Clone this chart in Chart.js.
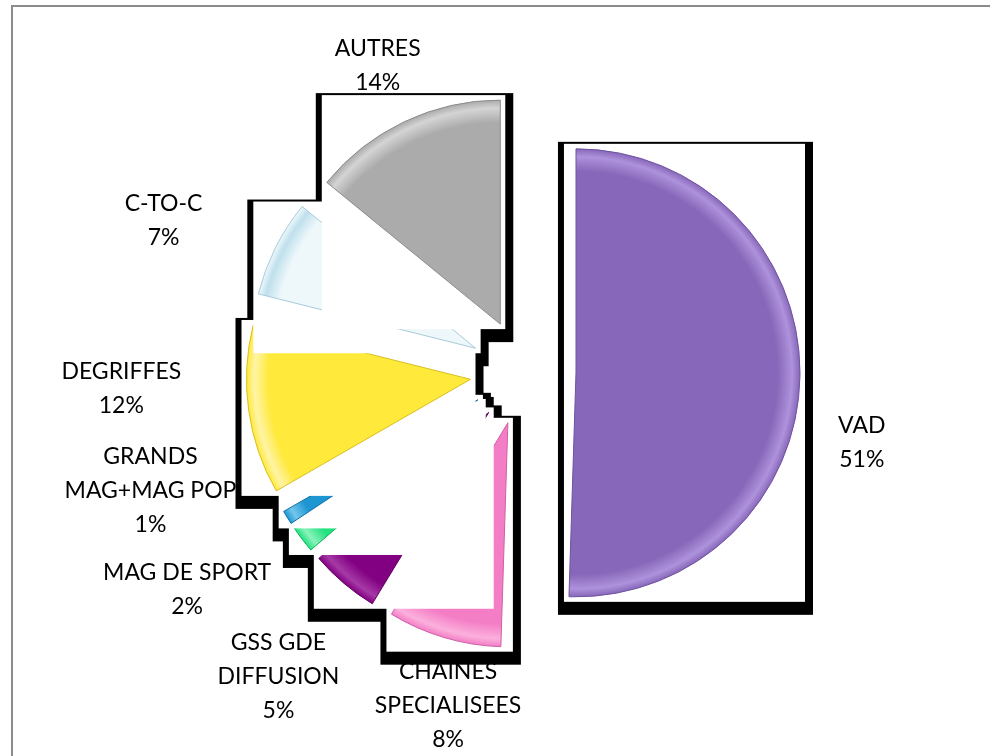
<!DOCTYPE html>
<html>
<head>
<meta charset="utf-8">
<script src="https://cdn.jsdelivr.net/npm/chart.js@4.4.1/dist/chart.umd.min.js"></script>
<style>
html,body{margin:0;padding:0;background:#fff;overflow:hidden;width:990px;height:756px}
#frame{position:absolute;left:11px;top:5px;width:990px;height:800px;border-left:2px solid #8c8c8c;border-top:2px solid #8c8c8c}
#c{position:absolute;left:0;top:0}
</style>
</head>
<body>
<div id="frame"></div>
<canvas id="c" width="990" height="756"></canvas>
<script>
// ---- data ----
const categories = [
  ["VAD"],
  ["CHAINES", "SPECIALISEES"],
  ["GSS GDE", "DIFFUSION"],
  ["MAG DE SPORT"],
  ["GRANDS", "MAG+MAG POP"],
  ["DEGRIFFES"],
  ["C-TO-C"],
  ["AUTRES"]
];
const shares = [50.5, 8.2, 5.0, 2.0, 1.0, 12.2, 7.0, 14.1];

// ---- styling ----
const sliceColors = ['#8767B9', '#F47EC6', '#820082', '#22E27E', '#1E96D2', '#FFE93A', '#EEF8FB', '#ABABAB'];
const rimColors   = ['#AE92DC', '#FBB0DC', '#A63AA6', '#8AF2BC', '#74C6EC', '#FFF4A6', '#BFE0EC', '#D4D4D4'];
const edgeColors  = ['#6E52A0', '#D060A6', '#600060', '#10B060', '#1070A8', '#D8C020', '#A8CCDA', '#8C8C8C'];
const EXPLODE = 53;
const RADIUS = 224;
const labelShiftDeg = [10.8, -3.9, -1.6, 4.2, 14.0, 5.6, -3.8, 0.0];
const labelDist = [346, 342, 391, 400, 391, 402, 390, 339];

function arcBox(arc) {
  const mid = (arc.startAngle + arc.endAngle) / 2;
  const dx = Math.cos(mid) * EXPLODE, dy = Math.sin(mid) * EXPLODE;
  const cx = arc.x + dx, cy = arc.y + dy, r = arc.outerRadius;
  const xs = [cx], ys = [cy];
  const add = a => { xs.push(cx + r * Math.cos(a)); ys.push(cy + r * Math.sin(a)); };
  add(arc.startAngle); add(arc.endAngle);
  const q = Math.PI / 2;
  for (let k = Math.ceil(arc.startAngle / q); k * q < arc.endAngle; k++) add(k * q);
  return { dx, dy, x0: Math.min(...xs), y0: Math.min(...ys), x1: Math.max(...xs), y1: Math.max(...ys) };
}

const framedPie = {
  id: 'framedPie',
  beforeDatasetDraw(chart, args) {
    const ctx = chart.ctx;
    const arcs = args.meta.data;
    const total = shares.reduce((a, b) => a + b, 0);
    // labels (beneath the frames)
    ctx.save();
    ctx.font = '23px Lato';
    ctx.fillStyle = '#000';
    ctx.textAlign = 'center';
    ctx.textBaseline = 'middle';
    arcs.forEach((arc, i) => {
      const mid = (arc.startAngle + arc.endAngle) / 2 + labelShiftDeg[i] * Math.PI / 180;
      const lx = arc.x + Math.cos(mid) * labelDist[i];
      const ly = arc.y + Math.sin(mid) * labelDist[i];
      const lines = [...chart.data.labels[i], Math.round(shares[i] / total * 100) + '%'];
      const lh = 34;
      lines.forEach((t, k) => ctx.fillText(t, lx, ly + (k - (lines.length - 1) / 2) * lh));
    });
    ctx.restore();

    const boxes = arcs.map(arcBox);
    ctx.save();
    ctx.fillStyle = '#000';
    boxes.forEach(b => ctx.fillRect(b.x0 - 11, b.y0 - 7, b.x1 - b.x0 + 24, b.y1 - b.y0 + 25));
    arcs.forEach((arc, i) => {
      const b = boxes[i];
      ctx.fillStyle = '#fff';
      ctx.fillRect(b.x0 - 5, b.y0 - 5, b.x1 - b.x0 + 10, b.y1 - b.y0 + 10);
      ctx.save();
      ctx.translate(b.dx, b.dy);
      arc.draw(ctx, chart.chartArea);
      ctx.restore();
    });
    ctx.restore();
    return false;
  }
};

function sliceFill(c) {
  const i = c.dataIndex;
  const chart = c.chart;
  const a = chart.chartArea;
  if (!a) return sliceColors[i];
  const cx = (a.left + a.right) / 2, cy = (a.top + a.bottom) / 2;
  const g = chart.ctx.createRadialGradient(cx, cy, 0, cx, cy, RADIUS);
  g.addColorStop(0, sliceColors[i]);
  g.addColorStop(0.9, sliceColors[i]);
  g.addColorStop(0.965, rimColors[i]);
  g.addColorStop(1, sliceColors[i]);
  return g;
}

new Chart(document.getElementById('c'), {
  type: 'pie',
  data: {
    labels: categories,
    datasets: [{
      data: shares,
      radius: RADIUS,
      backgroundColor: sliceFill,
      borderColor: edgeColors,
      borderWidth: 1,
      hoverOffset: 0
    }]
  },
  options: {
    responsive: false,
    animation: false,
    events: [],
    devicePixelRatio: 1,
    layout: { padding: { left: 76, right: 20, top: 20, bottom: 32 } },
    plugins: { legend: { display: false }, tooltip: { enabled: false } }
  },
  plugins: [framedPie]
});
</script>
</body>
</html>
